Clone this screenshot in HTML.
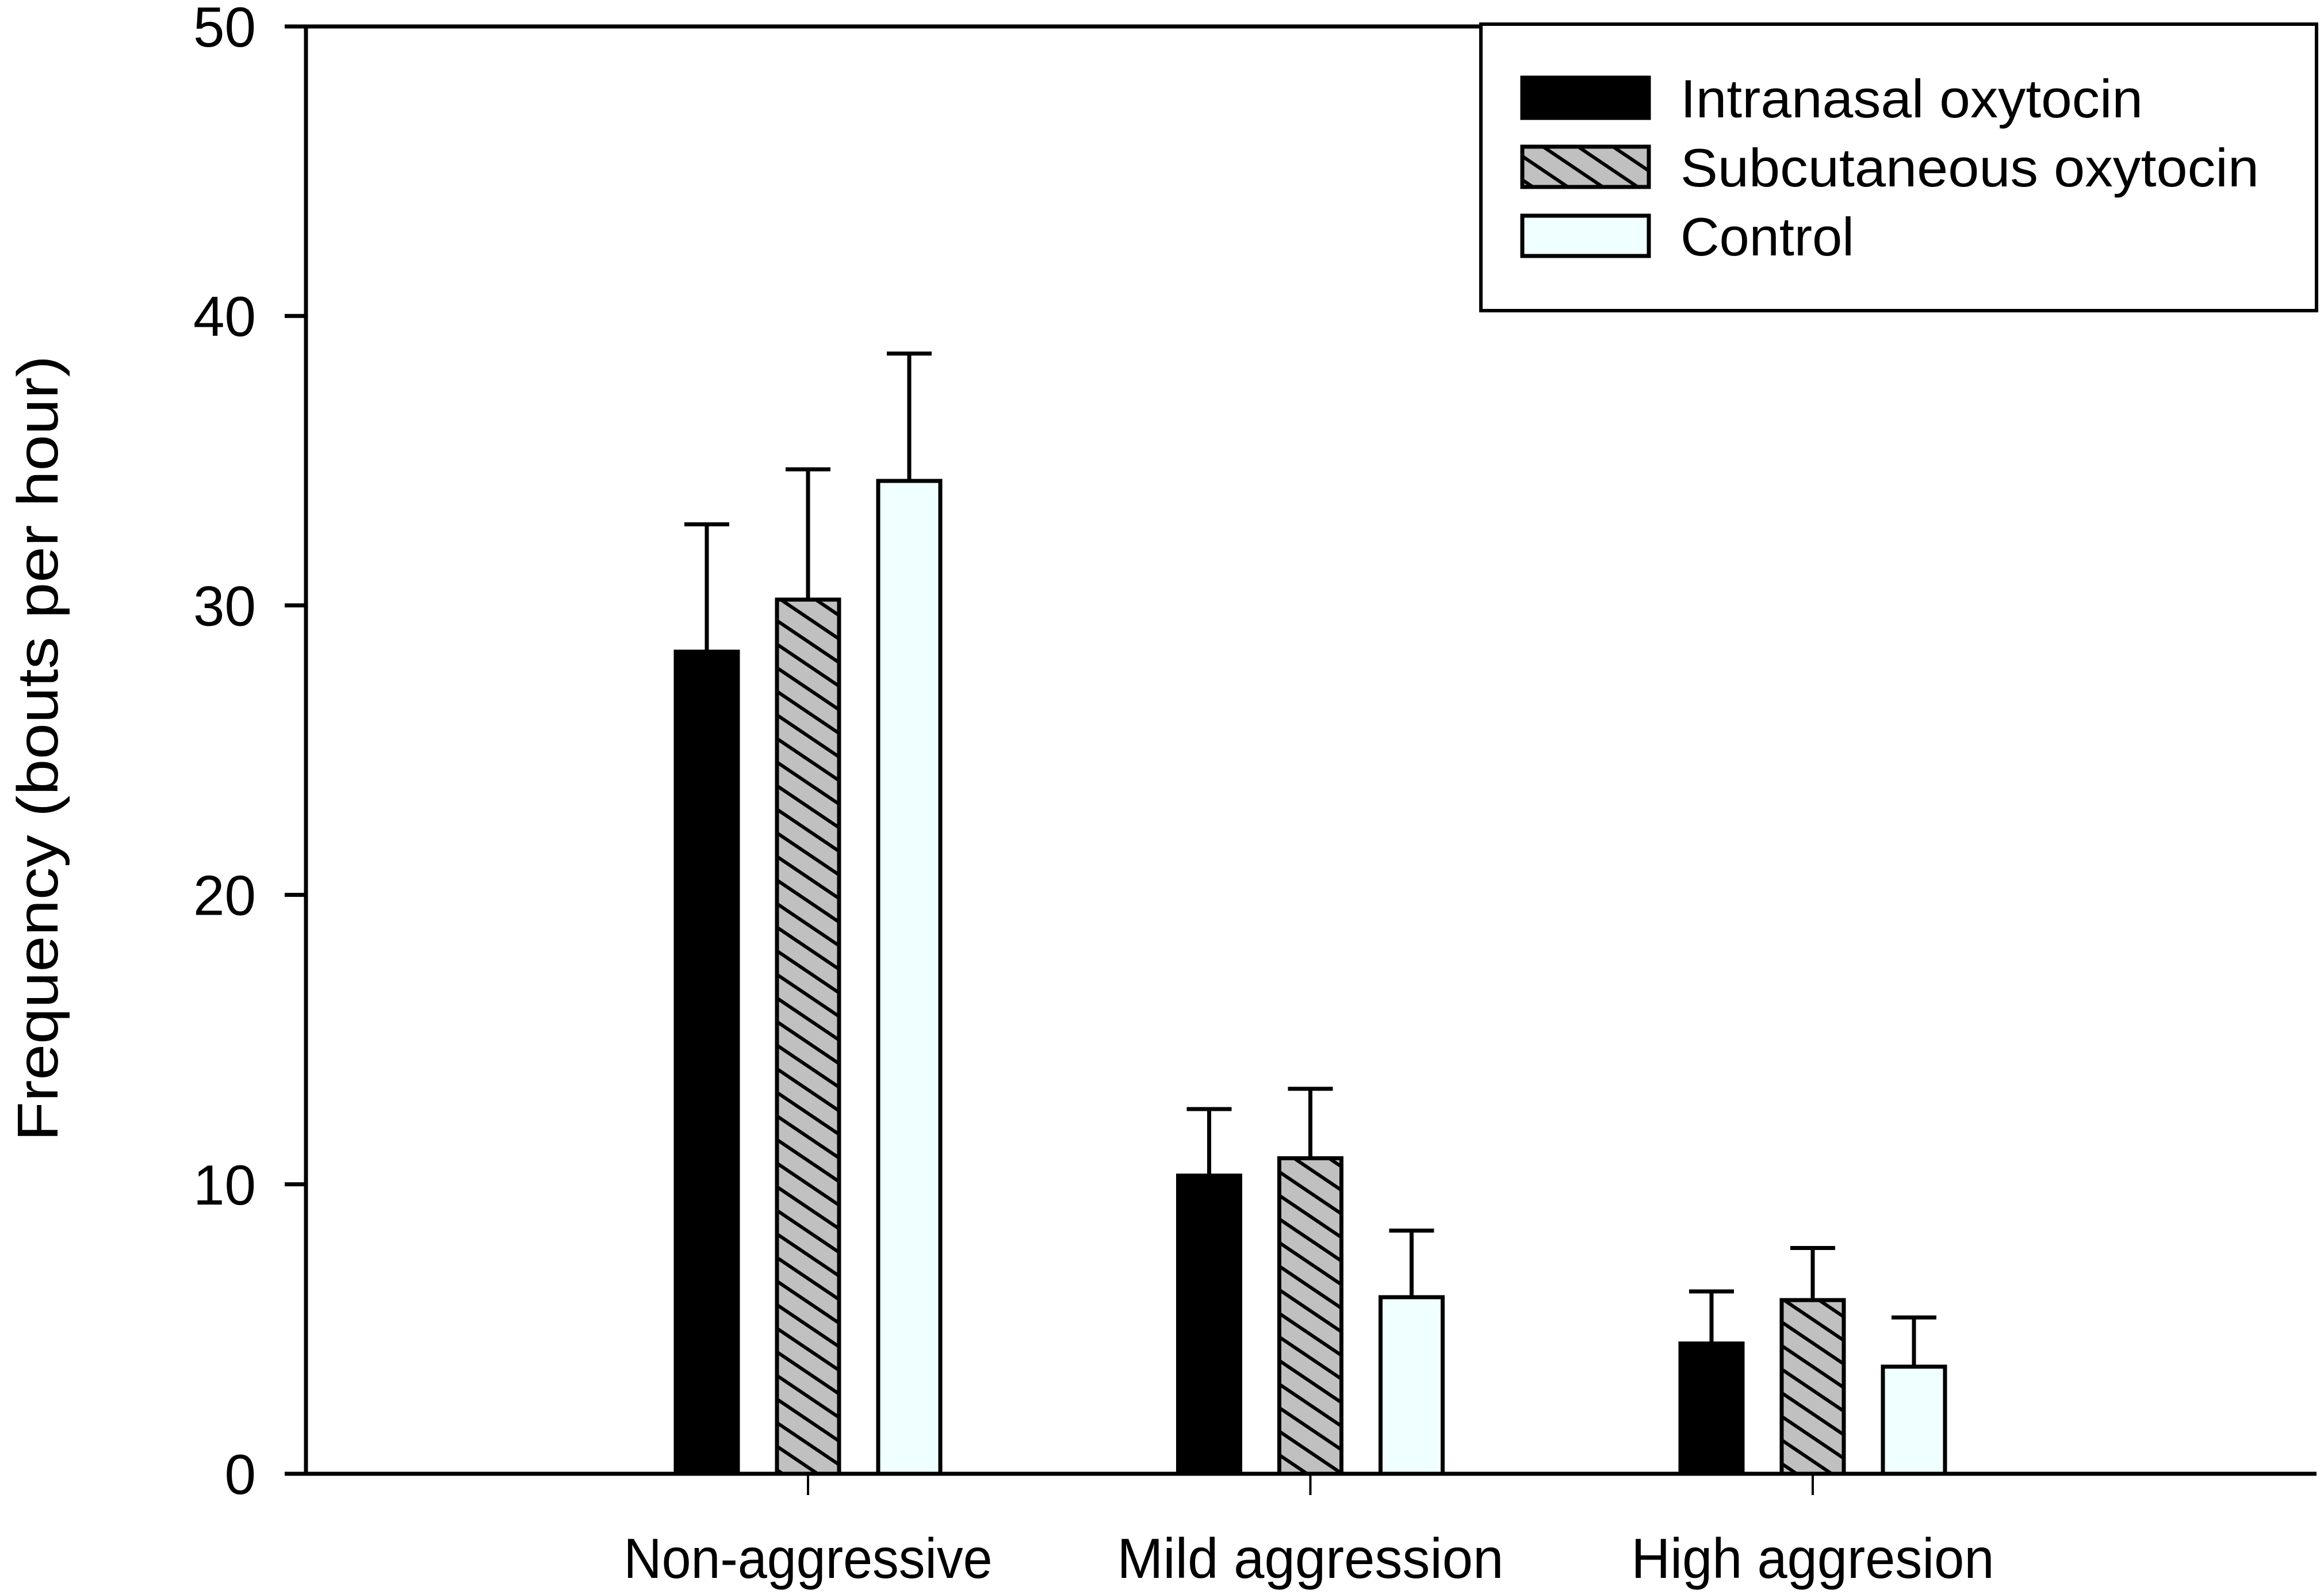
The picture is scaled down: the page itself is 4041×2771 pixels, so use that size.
<!DOCTYPE html>
<html><head><meta charset="utf-8">
<style>
html,body{margin:0;padding:0;background:#fff;}
svg{display:block;}
text{font-family:"Liberation Sans",sans-serif;fill:#000;}
</style></head>
<body>
<svg id="chart" width="4041" height="2771" viewBox="0 0 4041 2771" xmlns="http://www.w3.org/2000/svg">
<defs>
<pattern id="hatch" patternUnits="userSpaceOnUse" width="34" height="34" patternTransform="rotate(34)">
<rect width="34" height="34" fill="#c0c0c0"/>
<rect x="0" y="0" width="34" height="6" fill="#000"/>
</pattern>
</defs>
<g id="plot"></g>
</svg>
<script>
const categories = ["Non-aggressive", "Mild aggression", "High aggresion"];
const seriesNames = ["Intranasal oxytocin", "Subcutaneous oxytocin", "Control"];
const intranasal = [28.4, 10.3, 4.5];
const intranasalErr = [4.4, 2.3, 1.8];
const subcutaneous = [30.2, 10.9, 6.0];
const subcutaneousErr = [4.5, 2.4, 1.8];
const control = [34.3, 6.1, 3.7];
const controlErr = [4.4, 2.3, 1.7];
const yTicks = [0, 10, 20, 30, 40, 50];
const yTickLabels = ["0", "10", "20", "30", "40", "50"];

const NS = "http://www.w3.org/2000/svg";
const g = document.getElementById("plot");
const X0 = 532, X1 = 4028, Y0 = 2562, Y1 = 46;
const yMax = 50;
function yScale(v){ return Y0 - (v / yMax) * (Y0 - Y1); }
const groupStart = 1405, groupStep = 873.5;
function xCenter(i){ return groupStart + i * groupStep; }
const barW = 108, barOff = 176;

function mk(tag, attrs, parent){
  const e = document.createElementNS(NS, tag);
  for (const k in attrs) e.setAttribute(k, attrs[k]);
  (parent || g).appendChild(e);
  return e;
}

const series = [
  {vals: intranasal, errs: intranasalErr, fill: "#000", key: "intranasal"},
  {vals: subcutaneous, errs: subcutaneousErr, fill: "url(#hatch)", key: "subcutaneous"},
  {vals: control, errs: controlErr, fill: "#f0ffff", key: "control"}
];

series.forEach((s, si) => {
  s.vals.forEach((v, ci) => {
    const cx = xCenter(ci) + (si - 1) * barOff;
    const top = yScale(v);
    const errTop = yScale(v + s.errs[ci]);
    const ev = mk("line", {x1: cx, x2: cx, y1: top, y2: errTop, stroke: "#000", "stroke-width": 7});
    
    
    const ec = mk("line", {x1: cx - 39, x2: cx + 39, y1: errTop, y2: errTop, stroke: "#000", "stroke-width": 7});
    
    
    const r = mk("rect", {x: cx - barW/2, y: top, width: barW, height: Y0 - top, fill: s.fill, stroke: "#000", "stroke-width": 7});
    
    
  });
});

const ax = mk("path", {d: `M${X1},${Y1} L${X0},${Y1} L${X0},${Y0} L${X1},${Y0}`, fill: "none", stroke: "#000", "stroke-width": 7});



yTicks.forEach((t, i) => {
  const y = yScale(t);
  const tk = mk("line", {x1: X0 - 37, x2: X0, y1: y, y2: y, stroke: "#000", "stroke-width": 7});
  
  
  const lb = mk("text", {x: 445, y: y + 35, "font-size": 98, "text-anchor": "end"});
  lb.textContent = yTickLabels[i];
  
  
});

const xLabelWidths = [641, 672, 631];
categories.forEach((c, i) => {
  const x = xCenter(i);
  const tk = mk("line", {x1: x, x2: x, y1: Y0, y2: Y0 + 37, stroke: "#000", "stroke-width": 4});
  
  
  const lb = mk("text", {x: x, y: 2743, "font-size": 98, "text-anchor": "middle", textLength: xLabelWidths[i], lengthAdjust: "spacingAndGlyphs"});
  lb.textContent = c;
  
  
});

const yt = mk("text", {x: 0, y: 0, "font-size": 100, "text-anchor": "middle", transform: "translate(100,1301) rotate(-90)", textLength: 1366, lengthAdjust: "spacingAndGlyphs"});
yt.textContent = "Frequency (bouts per hour)";



const lg = mk("g", {});


const lbox = mk("rect", {x: 2575, y: 42, width: 1453, height: 498, fill: "#fff", stroke: "#000", "stroke-width": 6}, lg);


const legendRowY = [170, 290, 410];
const legendTextW = [804, 1006, 302];
series.forEach((s, si) => {
  const row = mk("g", {}, lg);
  
  
  const cy = legendRowY[si];
  const sw = mk("rect", {x: 2647, y: cy - 35, width: 220, height: 70, fill: s.fill, stroke: "#000", "stroke-width": 7}, row);
  
  
  const t = mk("text", {x: 2922, y: cy + 34, "font-size": 94, textLength: legendTextW[si], lengthAdjust: "spacingAndGlyphs"}, row);
  t.textContent = seriesNames[si];
  
  
});
</script>
</body></html>
